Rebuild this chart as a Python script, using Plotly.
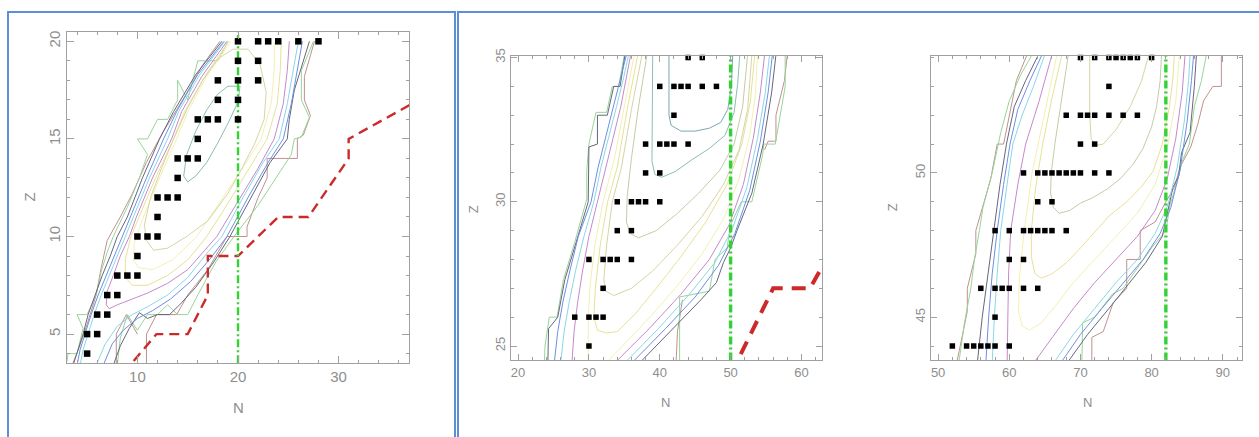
import plotly.graph_objects as go

W, H = 1259, 437

# ---------------- tick labels ----------------
P1_XTICKS = [10, 20, 30]
P1_YTICKS = [5, 10, 15, 20]
P2_XTICKS = [20, 30, 40, 50, 60]
P2_YTICKS = [25, 30, 35]
P3_XTICKS = [50, 60, 70, 80, 90]
P3_YTICKS = [45, 50]

# magic neutron numbers (dash-dot verticals)
MAGIC_N = [20, 50, 82]

# ---------------- panel 1 : known nuclei ----------------
P1_KNOWN_N = [20, 22, 23, 24, 26, 28, 20, 22, 18, 20, 22, 18, 20, 16, 17, 18, 20, 16,
              14, 15, 16, 14, 12, 13, 14, 12, 10, 11, 12, 10, 8, 9, 10, 7, 8, 6, 7, 5, 6, 5]
P1_KNOWN_Z = [20, 20, 20, 20, 20, 20, 19, 19, 18, 18, 18, 17, 17, 16, 16, 16, 16, 15,
              14, 14, 14, 13, 12, 12, 12, 11, 10, 10, 10, 9, 8, 8, 8, 7, 7, 6, 6, 5, 5, 4]

# drip line
P1_DRIP_N = [8.6, 11.9, 15.0, 16.0, 17.0, 17.0, 20.0, 24.0, 27.0, 31.0, 31.0, 38.0]
P1_DRIP_Z = [3.0, 5.0, 5.0, 6.0, 7.0, 9.0, 9.0, 11.0, 11.0, 14.0, 15.0, 17.0]

# contour lines (N, Z)
P1_TEAL = [(14.6, 13.1), (14.9, 14.2), (15.8, 15.4), (16.9, 16.5), (18.0, 17.3), (19.0, 17.7),
           (20.2, 17.7), (20.0, 16.9), (19.1, 15.9), (18.0, 14.8), (16.9, 13.8), (15.8, 13.1),
           (15.0, 12.8), (14.6, 13.1)]
P1_OLIVE = [(10.9, 9.8), (10.7, 10.6), (11.3, 12.0), (12.4, 13.5), (13.6, 15.0), (15.0, 16.6),
            (16.5, 18.0), (18.0, 19.1), (19.5, 19.6), (21.0, 19.6), (22.2, 18.8), (22.8, 17.4),
            (22.6, 16.0), (21.7, 14.8), (20.5, 13.6), (19.0, 12.2), (17.0, 10.8), (14.9, 10.0),
            (13.0, 9.4), (11.6, 9.3), (10.9, 9.8)]
P1_LYELLOW = [(19.3, 20.0), (17.0, 18.3), (15.1, 16.5), (13.9, 15.0), (12.2, 13.0), (10.6, 11.0),
              (9.7, 9.7), (9.6, 8.8), (10.1, 8.4), (11.5, 8.3), (13.5, 8.8), (15.9, 10.0),
              (18.0, 11.6), (20.2, 13.3), (22.3, 15.0), (23.3, 16.8), (23.6, 18.5), (23.6, 20.0)]
P1_YELLOW = [(19.1, 20.0), (16.7, 18.2), (14.7, 16.4), (13.6, 15.0), (11.8, 13.0), (10.2, 11.0),
             (9.35, 10.0), (8.8, 8.8), (8.8, 7.9), (9.5, 7.5), (11.0, 7.5), (13.0, 8.0), (15.0, 8.8),
             (16.9, 10.0), (19.0, 11.7), (21.0, 13.4), (22.9, 15.0), (23.9, 16.8), (24.2, 18.5),
             (24.3, 20.0)]
P1_VIOLET = [(18.9, 20.0), (16.4, 18.2), (14.4, 16.4), (13.4, 15.0), (11.5, 13.0), (9.9, 11.0),
             (9.2, 10.0), (8.3, 9.0), (7.6, 8.0), (7.0, 7.2), (6.9, 6.5), (7.2, 6.3), (8.0, 6.5),
             (9.0, 6.7), (11.0, 7.1), (13.0, 7.6), (15.0, 8.3), (16.7, 9.3), (17.9, 10.0),
             (20.0, 11.8), (22.0, 13.5), (23.6, 15.0), (24.5, 16.8), (24.9, 18.5), (25.1, 20.0)]
P1_CYAN_L = [(18.7, 20.0), (16.2, 18.3), (14.1, 16.4), (13.0, 15.0), (11.2, 13.0), (9.6, 11.0),
             (8.8, 10.0), (8.0, 9.0), (7.2, 8.0), (6.4, 7.0), (5.7, 6.0), (5.1, 5.0), (4.6, 4.2),
             (4.3, 3.4)]
P1_CYAN_R = [(5.9, 3.4), (6.8, 4.5), (8.0, 5.4), (9.5, 6.0), (11.0, 6.4), (13.0, 7.0), (15.0, 7.9),
             (17.0, 9.2), (18.4, 10.0), (20.5, 12.0), (22.5, 13.8), (24.1, 15.0), (24.9, 16.8),
             (25.5, 18.5), (26.0, 20.0)]
P1_BLUE_L = [(18.6, 20.0), (16.0, 18.3), (13.9, 16.4), (12.6, 15.0), (10.9, 13.0), (9.3, 11.0),
             (8.5, 10.0), (7.7, 9.0), (6.9, 8.0), (6.1, 7.0), (5.4, 6.0), (4.8, 5.0), (4.3, 4.2),
             (4.0, 3.4)]
P1_BLUE_R = [(6.6, 3.4), (7.5, 4.5), (8.6, 5.2), (10.0, 5.8), (11.5, 6.2), (13.3, 6.8), (15.3, 7.7),
             (17.3, 8.9), (18.9, 10.0), (21.0, 12.0), (23.0, 13.8), (24.5, 15.0), (25.3, 16.8),
             (25.9, 18.5), (26.4, 20.0)]
P1_DARK_L = [(18.4, 20.0), (15.8, 18.3), (13.6, 16.4), (12.2, 15.0), (10.5, 13.0), (9.0, 11.0),
             (8.0, 10.0), (7.3, 9.0), (6.5, 8.0), (5.8, 7.0), (5.1, 6.0), (4.6, 5.0), (4.0, 4.0),
             (3.6, 3.4)]
P1_DARK_R = [(7.6, 3.4), (8.3, 4.4), (9.2, 5.3), (10.2, 6.1), (11.0, 5.8), (12.0, 6.0), (13.2, 6.0),
             (14.2, 6.5), (15.8, 7.4), (17.6, 8.7), (19.2, 10.0), (21.3, 12.0), (23.2, 13.8),
             (24.9, 15.0), (25.1, 16.0), (25.6, 17.5), (26.5, 19.0), (27.1, 20.0)]
P1_GREEN_L = [(19.0, 20.0), (18.0, 19.0), (16.0, 19.0), (15.0, 17.0), (14.0, 18.0), (14.0, 17.0),
              (13.0, 16.0), (12.0, 16.0), (11.0, 15.0), (10.0, 15.0), (11.0, 14.2), (10.2, 13.0),
              (9.0, 11.5), (7.6, 10.0), (7.0, 9.2), (6.4, 8.2), (5.9, 7.0), (5.0, 6.0), (4.0, 6.0),
              (4.6, 5.3), (4.0, 4.0), (3.1, 4.0), (3.0, 3.6)]
P1_GREEN_R = [(27.5, 20.0), (26.3, 18.5), (26.3, 17.0), (27.1, 16.1), (26.3, 15.1), (25.6, 15.0),
              (25.3, 14.2), (23.8, 13.0), (22.0, 11.6), (19.6, 10.0), (17.8, 8.7), (16.0, 7.0),
              (15.0, 6.0), (14.0, 6.0), (13.0, 6.5), (12.0, 6.0), (11.0, 6.0), (10.0, 5.2),
              (9.0, 6.0), (8.3, 4.8), (8.0, 3.4)]
P1_BROWN_L = [(18.2, 20.0), (16.5, 18.8), (14.5, 17.0), (12.5, 15.3), (10.9, 13.8), (9.5, 12.2),
              (8.3, 11.0), (7.0, 9.8), (6.4, 8.4), (5.9, 7.0), (5.0, 5.5), (4.2, 4.3), (3.5, 3.4)]
P1_BROWN_R = [(27.6, 20.0), (26.6, 18.2), (26.6, 17.0), (27.2, 16.2), (26.5, 15.2), (25.9, 15.0),
              (25.9, 14.0), (22.9, 14.0), (22.9, 13.0), (22.0, 12.0), (20.9, 10.5), (20.9, 10.0),
              (18.9, 10.0), (17.0, 8.3), (15.0, 7.0), (13.9, 6.0), (11.9, 6.0), (10.9, 5.0),
              (10.9, 3.4)]
P1_BROWN_B = [(7.9, 3.4), (7.9, 5.0), (8.9, 6.0), (10.0, 5.0)]

# ---------------- panel 2 ----------------
P2_KNOWN_N = [44, 46, 40, 42, 43, 44, 46, 48, 42, 38, 40, 41, 42, 44, 38, 40,
              34, 36, 37, 38, 40, 34, 36, 30, 32, 33, 34, 36, 32, 28, 30, 31, 32, 30]
P2_KNOWN_Z = [35, 35, 34, 34, 34, 34, 34, 34, 33, 32, 32, 32, 32, 32, 31, 31,
              30, 30, 30, 30, 30, 29, 29, 28, 28, 28, 28, 28, 27, 26, 26, 26, 26, 25]
P2_DRIP_N = [50.0, 56.0, 61.2, 63.5]
P2_DRIP_Z = [24.0, 27.0, 27.0, 28.0]

P2_TEALBLUE = [(41.3, 35.1), (41.3, 33.0), (41.6, 32.65), (43.0, 32.45), (45.0, 32.45), (47.0, 32.55),
               (48.6, 32.75), (49.6, 33.2), (50.1, 34.0), (50.3, 35.1)]
P2_GRAYTEAL = [(39.0, 35.1), (38.9, 33.0), (38.9, 31.4), (39.3, 30.95), (40.3, 30.85), (42.2, 31.05),
               (44.5, 31.45), (47.0, 31.85), (49.2, 32.3), (50.5, 33.1), (51.0, 34.1), (51.3, 35.1)]
P2_OLIVE = [(38.2, 35.1), (37.0, 33.3), (36.0, 31.5), (35.4, 30.2), (35.3, 29.3), (35.8, 28.9),
            (37.0, 28.75), (39.5, 29.0), (42.5, 29.6), (45.5, 30.3), (48.5, 31.1), (50.5, 32.0),
            (51.7, 33.3), (52.4, 35.1)]
P2_KHAKI = [(37.5, 35.1), (36.0, 33.2), (34.6, 31.2), (33.3, 30.0), (32.5, 28.5), (32.1, 27.3),
            (32.4, 26.9), (33.5, 26.75), (36.0, 27.0), (39.0, 27.6), (42.5, 28.5), (46.0, 29.5),
            (49.0, 30.6), (51.2, 31.8), (52.4, 33.2), (53.0, 35.1)]
P2_YELLOW = [(36.9, 35.1), (35.4, 33.2), (34.0, 31.2), (32.65, 30.0), (31.6, 28.5), (30.9, 27.0),
             (30.7, 26.0), (31.2, 25.55), (32.5, 25.45), (34.0, 25.5), (36.5, 26.1), (39.5, 27.0),
             (43.0, 28.1), (46.5, 29.3), (49.5, 30.6), (51.6, 32.0), (52.8, 33.5), (53.4, 35.1)]
P2_LYELLOW_L = [(36.4, 35.1), (35.0, 33.3), (33.6, 31.5), (32.0, 30.0), (30.9, 28.6), (30.2, 27.2),
                (29.9, 26.0), (29.9, 24.4)]
P2_LYELLOW_R = [(32.4, 24.4), (35.5, 25.2), (39.0, 26.1), (42.5, 27.1), (46.0, 28.2), (49.0, 29.4),
                (51.2, 30.8), (52.7, 32.3), (53.5, 33.7), (53.8, 35.1)]
P2_VIOLET_L = [(35.9, 35.1), (35.3, 34.3), (34.5, 33.3), (33.4, 32.2), (32.4, 31.2), (31.3, 30.0),
               (30.0, 28.8), (29.1, 27.6), (28.4, 26.5), (27.9, 25.5), (27.6, 24.4)]
P2_VIOLET_R = [(33.6, 24.4), (38.5, 25.6), (43.0, 26.8), (47.0, 28.0), (49.8, 29.2), (51.8, 30.6),
               (53.2, 32.2), (54.2, 33.8), (54.8, 35.1)]
P2_CYAN_L = [(35.6, 35.1), (34.9, 34.3), (33.9, 33.3), (32.8, 32.2), (31.7, 31.2), (30.7, 30.0),
             (29.3, 28.8), (28.1, 27.6), (27.2, 26.5), (26.5, 25.5), (26.0, 24.4)]
P2_CYAN_R = [(35.0, 24.4), (39.8, 25.6), (44.2, 26.8), (47.8, 27.9), (50.3, 29.1), (52.3, 30.5),
             (53.8, 32.2), (54.9, 33.8), (55.5, 35.1)]
P2_BLUE_L = [(35.3, 35.1), (34.5, 34.3), (33.5, 33.3), (32.4, 32.2), (31.3, 31.2), (30.3, 30.0),
             (28.5, 28.8), (27.3, 27.6), (26.3, 26.5), (25.6, 25.5), (25.1, 24.4)]
P2_BLUE_R = [(36.0, 24.4), (40.8, 25.6), (45.0, 26.7), (48.3, 27.8), (50.6, 28.9), (52.7, 30.4),
             (54.2, 32.1), (55.3, 33.8), (55.9, 35.1)]
P2_DARK_L = [(35.1, 35.1), (34.4, 34.0), (33.5, 34.0), (32.6, 33.0), (31.2, 33.0), (31.2, 32.0),
             (30.0, 31.9), (30.0, 31.1), (29.9, 30.0), (28.2, 28.6), (26.6, 27.3), (25.6, 26.0),
             (24.3, 25.6), (24.2, 24.4)]
P2_DARK_R = [(37.1, 24.4), (41.8, 25.6), (45.8, 26.6), (48.0, 27.2), (49.0, 27.9), (50.0, 28.4),
             (50.9, 29.0), (53.0, 30.3), (54.6, 32.0), (55.8, 33.8), (56.4, 35.1)]
P2_GREEN_L = [(35.0, 35.1), (34.2, 34.0), (33.3, 34.0), (32.5, 33.1), (31.0, 33.1), (30.0, 32.0),
              (29.7, 31.1), (29.7, 30.1), (28.0, 28.6), (26.4, 27.3), (25.5, 26.0), (24.4, 26.0),
              (23.8, 25.0), (23.7, 24.4)]
P2_GREEN_R = [(42.8, 24.4), (42.8, 26.7), (47.0, 26.9), (47.8, 28.0), (49.5, 28.4), (50.0, 29.2),
              (51.5, 30.0), (53.0, 30.0), (54.5, 31.6), (54.7, 32.0), (56.3, 32.0), (57.7, 34.0),
              (57.7, 35.1)]
P2_BROWN_B = [(42.3, 24.4), (42.5, 25.5), (43.2, 26.6)]
P2_BROWN_T = [(54.8, 31.8), (55.3, 32.1), (56.4, 32.1), (56.4, 33.0), (57.6, 34.2), (58.0, 35.1)]

# ---------------- panel 3 ----------------
P3_KNOWN_N = [70, 72, 74, 75, 76, 77, 78, 80, 74, 68, 70, 71, 72, 74, 76, 78, 70, 72,
              62, 64, 65, 66, 67, 68, 69, 70, 72, 74, 64, 66, 58, 60, 62, 63, 64, 65, 66, 68,
              60, 62, 56, 58, 59, 60, 62, 64, 58, 52, 54, 55, 56, 57, 58, 60]
P3_KNOWN_Z = [54, 54, 54, 54, 54, 54, 54, 54, 53, 52, 52, 52, 52, 52, 52, 52, 51, 51,
              50, 50, 50, 50, 50, 50, 50, 50, 50, 50, 49, 49, 48, 48, 48, 48, 48, 48, 48, 48,
              47, 47, 46, 46, 46, 46, 46, 46, 45, 44, 44, 44, 44, 44, 44, 44]

P3_KHAKI = [(71.3, 54.1), (71.3, 52.0), (71.5, 51.2), (72.0, 50.95), (73.2, 51.0), (75.0, 51.5),
            (77.0, 52.3), (78.6, 53.2), (79.6, 54.1)]
P3_OLIVE = [(68.3, 54.1), (67.3, 52.5), (66.4, 51.0), (65.9, 50.0), (65.8, 49.3), (66.2, 48.8),
            (67.0, 48.6), (68.5, 48.7), (70.0, 48.95), (71.8, 49.15), (73.8, 49.45), (75.6, 49.8),
            (77.4, 50.3), (78.8, 50.85), (80.0, 51.6), (80.7, 52.3), (81.2, 53.2), (81.4, 54.1)]
P3_YELLOW = [(67.4, 54.1), (66.0, 52.6), (64.7, 51.0), (63.7, 49.5), (63.1, 48.0), (63.1, 47.1),
             (63.6, 46.5), (64.5, 46.35), (66.0, 46.5), (68.1, 46.9), (70.0, 47.4), (71.8, 47.9),
             (74.0, 48.5), (76.5, 49.0), (78.5, 49.5), (80.2, 50.05), (81.5, 51.0), (82.5, 52.3),
             (83.0, 53.3), (83.2, 54.1)]
P3_LYELLOW = [(66.7, 54.1), (64.9, 52.0), (63.2, 50.0), (62.1, 48.0), (61.4, 46.3), (61.3, 45.2),
              (61.8, 44.7), (62.8, 44.55), (64.5, 44.8), (66.5, 45.4), (69.0, 46.2), (72.0, 47.0),
              (75.0, 47.8), (78.0, 48.6), (80.5, 49.6), (82.3, 51.0), (83.4, 52.5), (83.9, 54.1)]
P3_VIOLET_L = [(66.0, 54.1), (64.2, 52.5), (62.3, 51.0), (61.2, 49.6), (60.2, 48.0), (59.9, 46.5),
               (59.8, 45.0), (59.7, 43.4)]
P3_VIOLET_R = [(63.4, 43.4), (66.0, 44.3), (69.0, 45.3), (72.0, 46.2), (75.0, 47.0), (78.0, 47.8),
               (80.5, 48.7), (82.2, 49.8), (83.4, 51.2), (84.3, 52.8), (84.7, 54.1)]
P3_CYAN_L = [(65.0, 54.1), (63.4, 53.0), (61.8, 52.0), (60.5, 51.0), (59.8, 49.8), (58.8, 48.0),
             (58.3, 46.5), (57.9, 45.0), (57.6, 43.4)]
P3_CYAN_R = [(66.2, 43.4), (69.0, 44.4), (72.0, 45.3), (75.0, 46.2), (78.0, 47.0), (80.5, 47.9),
             (82.3, 48.9), (83.6, 50.2), (84.6, 51.8), (85.2, 53.2), (85.4, 54.1)]
P3_BLUE_L = [(64.6, 54.1), (62.9, 53.2), (61.2, 52.2), (60.1, 51.0), (59.2, 49.6), (58.3, 48.0),
             (57.6, 46.5), (57.1, 45.0), (56.7, 43.4)]
P3_BLUE_R = [(67.2, 43.4), (70.0, 44.4), (73.0, 45.3), (76.0, 46.2), (78.8, 47.0), (81.2, 47.9),
             (82.7, 48.8), (84.0, 50.1), (85.0, 51.8), (85.6, 53.2), (85.9, 54.1)]
P3_DARK_L = [(64.1, 54.1), (62.3, 53.2), (60.7, 52.3), (59.6, 51.0), (58.7, 49.6), (57.8, 48.0),
             (57.0, 46.5), (56.2, 45.0), (55.5, 43.4)]
P3_DARK_R = [(68.1, 43.4), (71.0, 44.4), (74.0, 45.3), (77.0, 46.2), (79.2, 46.9), (81.5, 47.8),
             (82.3, 48.7), (83.0, 49.5), (83.8, 49.9), (84.2, 50.7), (85.4, 51.4), (86.0, 53.0),
             (86.3, 54.1)]
P3_GREEN_L = [(63.2, 54.1), (61.6, 53.4), (60.0, 52.5), (58.8, 51.4), (57.6, 50.0), (56.3, 48.8),
              (55.8, 48.0), (55.1, 47.0), (54.6, 46.0), (53.7, 44.8), (52.9, 43.4)]
P3_GREEN_R = [(70.2, 43.4), (70.3, 44.8), (72.0, 45.0), (74.5, 45.8), (76.0, 46.0), (78.0, 46.7),
              (80.0, 47.4), (82.0, 48.0), (82.6, 48.9), (83.6, 49.7), (84.3, 50.4), (85.3, 51.0),
              (86.0, 52.3), (87.0, 53.2), (87.7, 54.1)]
P3_BROWN_L = [(62.5, 54.1), (61.0, 53.2), (59.2, 51.0), (58.3, 51.0), (57.4, 49.8), (56.4, 48.9),
              (55.3, 48.0), (55.3, 47.2), (54.1, 46.0), (54.1, 45.2), (53.3, 44.2), (52.6, 43.4)]
P3_BROWN_R = [(71.6, 43.4), (71.6, 44.3), (73.2, 44.5), (74.6, 45.5), (76.5, 46.0), (76.5, 47.0),
              (78.4, 47.0), (78.4, 48.0), (80.5, 48.3), (82.0, 49.0), (83.2, 49.5), (84.0, 50.2),
              (85.5, 50.9), (86.5, 51.7), (87.3, 52.5), (88.6, 53.0), (89.8, 53.0), (89.8, 54.1)]

# ---------------- styles ----------------
C_GREEN = "#98d498"
C_BROWN = "#c09090"
C_DARK = "#66667a"
C_BLUE = "#6d8ee2"
C_CYAN = "#8ad6e6"
C_VIOLET = "#c688cc"
C_LYELLOW = "#f2f0b0"
C_YELLOW = "#e6e296"
C_KHAKI = "#d6d4a4"
C_OLIVE = "#c2cca6"
C_TEAL = "#8cbcb4"
C_TEALBLUE = "#78aab0"
C_MAGIC = "#33d233"
C_DRIP = "#cc2a2a"
AX_GREY = "#a0a0a0"
TXT_GREY = "#8e8e8e"
FONT = "Liberation Sans"

fig = go.Figure()


def add_line(pts, color, ax, width=1.0):
    xs = [p[0] for p in pts]
    ys = [p[1] for p in pts]
    fig.add_trace(go.Scatter(x=xs, y=ys, mode="lines", xaxis=ax[0], yaxis=ax[1],
                             line=dict(color=color, width=width), hoverinfo="skip"))


A1, A2, A3 = ("x", "y"), ("x2", "y2"), ("x3", "y3")

panel1 = [
    (P1_BROWN_L, C_BROWN), (P1_BROWN_R, C_BROWN), (P1_BROWN_B, C_BROWN),
    (P1_GREEN_L, C_GREEN), (P1_GREEN_R, C_GREEN),
    (P1_DARK_L, C_DARK), (P1_DARK_R, C_DARK),
    (P1_BLUE_L, C_BLUE), (P1_BLUE_R, C_BLUE),
    (P1_CYAN_L, C_CYAN), (P1_CYAN_R, C_CYAN),
    (P1_VIOLET, C_VIOLET), (P1_YELLOW, C_YELLOW), (P1_LYELLOW, C_LYELLOW),
    (P1_OLIVE, C_KHAKI), (P1_TEAL, C_TEAL),
]
panel2 = [
    (P2_BROWN_B, C_BROWN), (P2_BROWN_T, C_BROWN),
    (P2_GREEN_L, C_GREEN), (P2_GREEN_R, C_GREEN),
    (P2_DARK_L, C_DARK), (P2_DARK_R, C_DARK),
    (P2_BLUE_L, C_BLUE), (P2_BLUE_R, C_BLUE),
    (P2_CYAN_L, C_CYAN), (P2_CYAN_R, C_CYAN),
    (P2_VIOLET_L, C_VIOLET), (P2_VIOLET_R, C_VIOLET),
    (P2_LYELLOW_L, C_LYELLOW), (P2_LYELLOW_R, C_LYELLOW),
    (P2_YELLOW, C_YELLOW), (P2_KHAKI, C_KHAKI), (P2_OLIVE, C_OLIVE),
    (P2_GRAYTEAL, C_TEAL), (P2_TEALBLUE, C_TEALBLUE),
]
panel3 = [
    (P3_BROWN_L, C_BROWN), (P3_BROWN_R, C_BROWN),
    (P3_GREEN_L, C_GREEN), (P3_GREEN_R, C_GREEN),
    (P3_DARK_L, C_DARK), (P3_DARK_R, C_DARK),
    (P3_BLUE_L, C_BLUE), (P3_BLUE_R, C_BLUE),
    (P3_CYAN_L, C_CYAN), (P3_CYAN_R, C_CYAN),
    (P3_VIOLET_L, C_VIOLET), (P3_VIOLET_R, C_VIOLET),
    (P3_LYELLOW, C_LYELLOW), (P3_YELLOW, C_YELLOW),
    (P3_OLIVE, C_OLIVE), (P3_KHAKI, C_KHAKI),
]
for pts, col in panel1:
    add_line(pts, col, A1)
for pts, col in panel2:
    add_line(pts, col, A2)
for pts, col in panel3:
    add_line(pts, col, A3)

# drip lines
fig.add_trace(go.Scatter(x=P1_DRIP_N, y=P1_DRIP_Z, mode="lines", xaxis="x", yaxis="y",
                         line=dict(color=C_DRIP, width=2.4, dash="10px,6px")))
fig.add_trace(go.Scatter(x=P2_DRIP_N, y=P2_DRIP_Z, mode="lines", xaxis="x2", yaxis="y2",
                         line=dict(color=C_DRIP, width=4, dash="14px,9px")))

# magic numbers
RANGES = {
    "p1": ([3, 37], [3.5, 20.5]),
    "p2": ([19, 62.9], [24.5, 35.05]),
    "p3": ([49, 92.7], [43.5, 54.05]),
}
for n, ax, key, w in zip(MAGIC_N, (A1, A2, A3), ("p1", "p2", "p3"), (2.4, 3.4, 3.4)):
    yr = RANGES[key][1]
    fig.add_trace(go.Scatter(x=[n, n], y=yr, mode="lines", xaxis=ax[0], yaxis=ax[1],
                             line=dict(color=C_MAGIC, width=w, dash="8px,3px,2px,3px")))

# known nuclei
for xs, ys, ax, sz in ((P1_KNOWN_N, P1_KNOWN_Z, A1, 6.5),
                       (P2_KNOWN_N, P2_KNOWN_Z, A2, 5.5),
                       (P3_KNOWN_N, P3_KNOWN_Z, A3, 5.5)):
    fig.add_trace(go.Scatter(x=xs, y=ys, mode="markers", xaxis=ax[0], yaxis=ax[1],
                             cliponaxis=False,
                             marker=dict(symbol="square", size=sz, color="black",
                                         line=dict(width=0))))


def axis(domain, rng, ticks, minor, size, anchor, rotate=False, tlen=7):
    d = dict(domain=domain, range=rng, anchor=anchor, tickmode="array", tickvals=ticks,
             showgrid=False, zeroline=False, showline=True, linecolor=AX_GREY, linewidth=1,
             mirror="ticks", ticks="inside", ticklen=tlen, tickcolor=AX_GREY, tickwidth=1,
             tickfont=dict(family=FONT, size=size, color=TXT_GREY),
             minor=dict(ticks="inside", ticklen=int(tlen * 0.55), tickcolor=AX_GREY,
                        dtick=minor, tick0=0, showgrid=False))
    if rotate:
        d["tickangle"] = -90
    return d


def px_x(a, b):
    return [a / W, b / W]


def px_y(top, bottom):
    return [1 - bottom / H, 1 - top / H]


fig.update_layout(
    width=W, height=H, margin=dict(l=0, r=0, t=0, b=0),
    paper_bgcolor="white", plot_bgcolor="white", showlegend=False,
    xaxis=axis(px_x(67, 409), RANGES["p1"][0], P1_XTICKS, 2, 15, "y"),
    yaxis=axis(px_y(24, 362), RANGES["p1"][1], P1_YTICKS, 1, 15, "x", rotate=True),
    xaxis2=axis(px_x(511, 822), RANGES["p2"][0], P2_XTICKS, 2, 13, "y2", tlen=6),
    yaxis2=axis(px_y(49, 359), RANGES["p2"][1], P2_YTICKS, 1, 13, "x2", rotate=True, tlen=6),
    xaxis3=axis(px_x(931, 1242), RANGES["p3"][0], P3_XTICKS, 2, 13, "y3", tlen=6),
    yaxis3=axis(px_y(49, 359), RANGES["p3"][1], P3_YTICKS, 1, 13, "x3", rotate=True, tlen=6),
)

# axis titles
titles = [("N", 238, 407, 0, 15), ("Z", 29, 193, -90, 15),
          ("N", 665, 402, 0, 13), ("Z", 473, 205, -90, 13),
          ("N", 1087, 402, 0, 13), ("Z", 892, 203, -90, 13)]
for txt, x, y, ang, sz in titles:
    fig.add_annotation(text=txt, x=x / W, y=1 - y / H, xref="paper", yref="paper",
                       showarrow=False, textangle=ang, xanchor="center", yanchor="middle",
                       font=dict(family=FONT, size=sz, color=TXT_GREY))

# framing boxes
FRAME = "#5d8fd4"
fig.add_shape(type="rect", xref="paper", yref="paper", x0=8 / W, x1=455 / W,
              y0=-0.05, y1=1 - 4 / H, line=dict(color=FRAME, width=2))
fig.add_shape(type="rect", xref="paper", yref="paper", x0=458 / W, x1=1.02,
              y0=-0.05, y1=1 - 4 / H, line=dict(color=FRAME, width=2))

fig.write_html("out.html")
